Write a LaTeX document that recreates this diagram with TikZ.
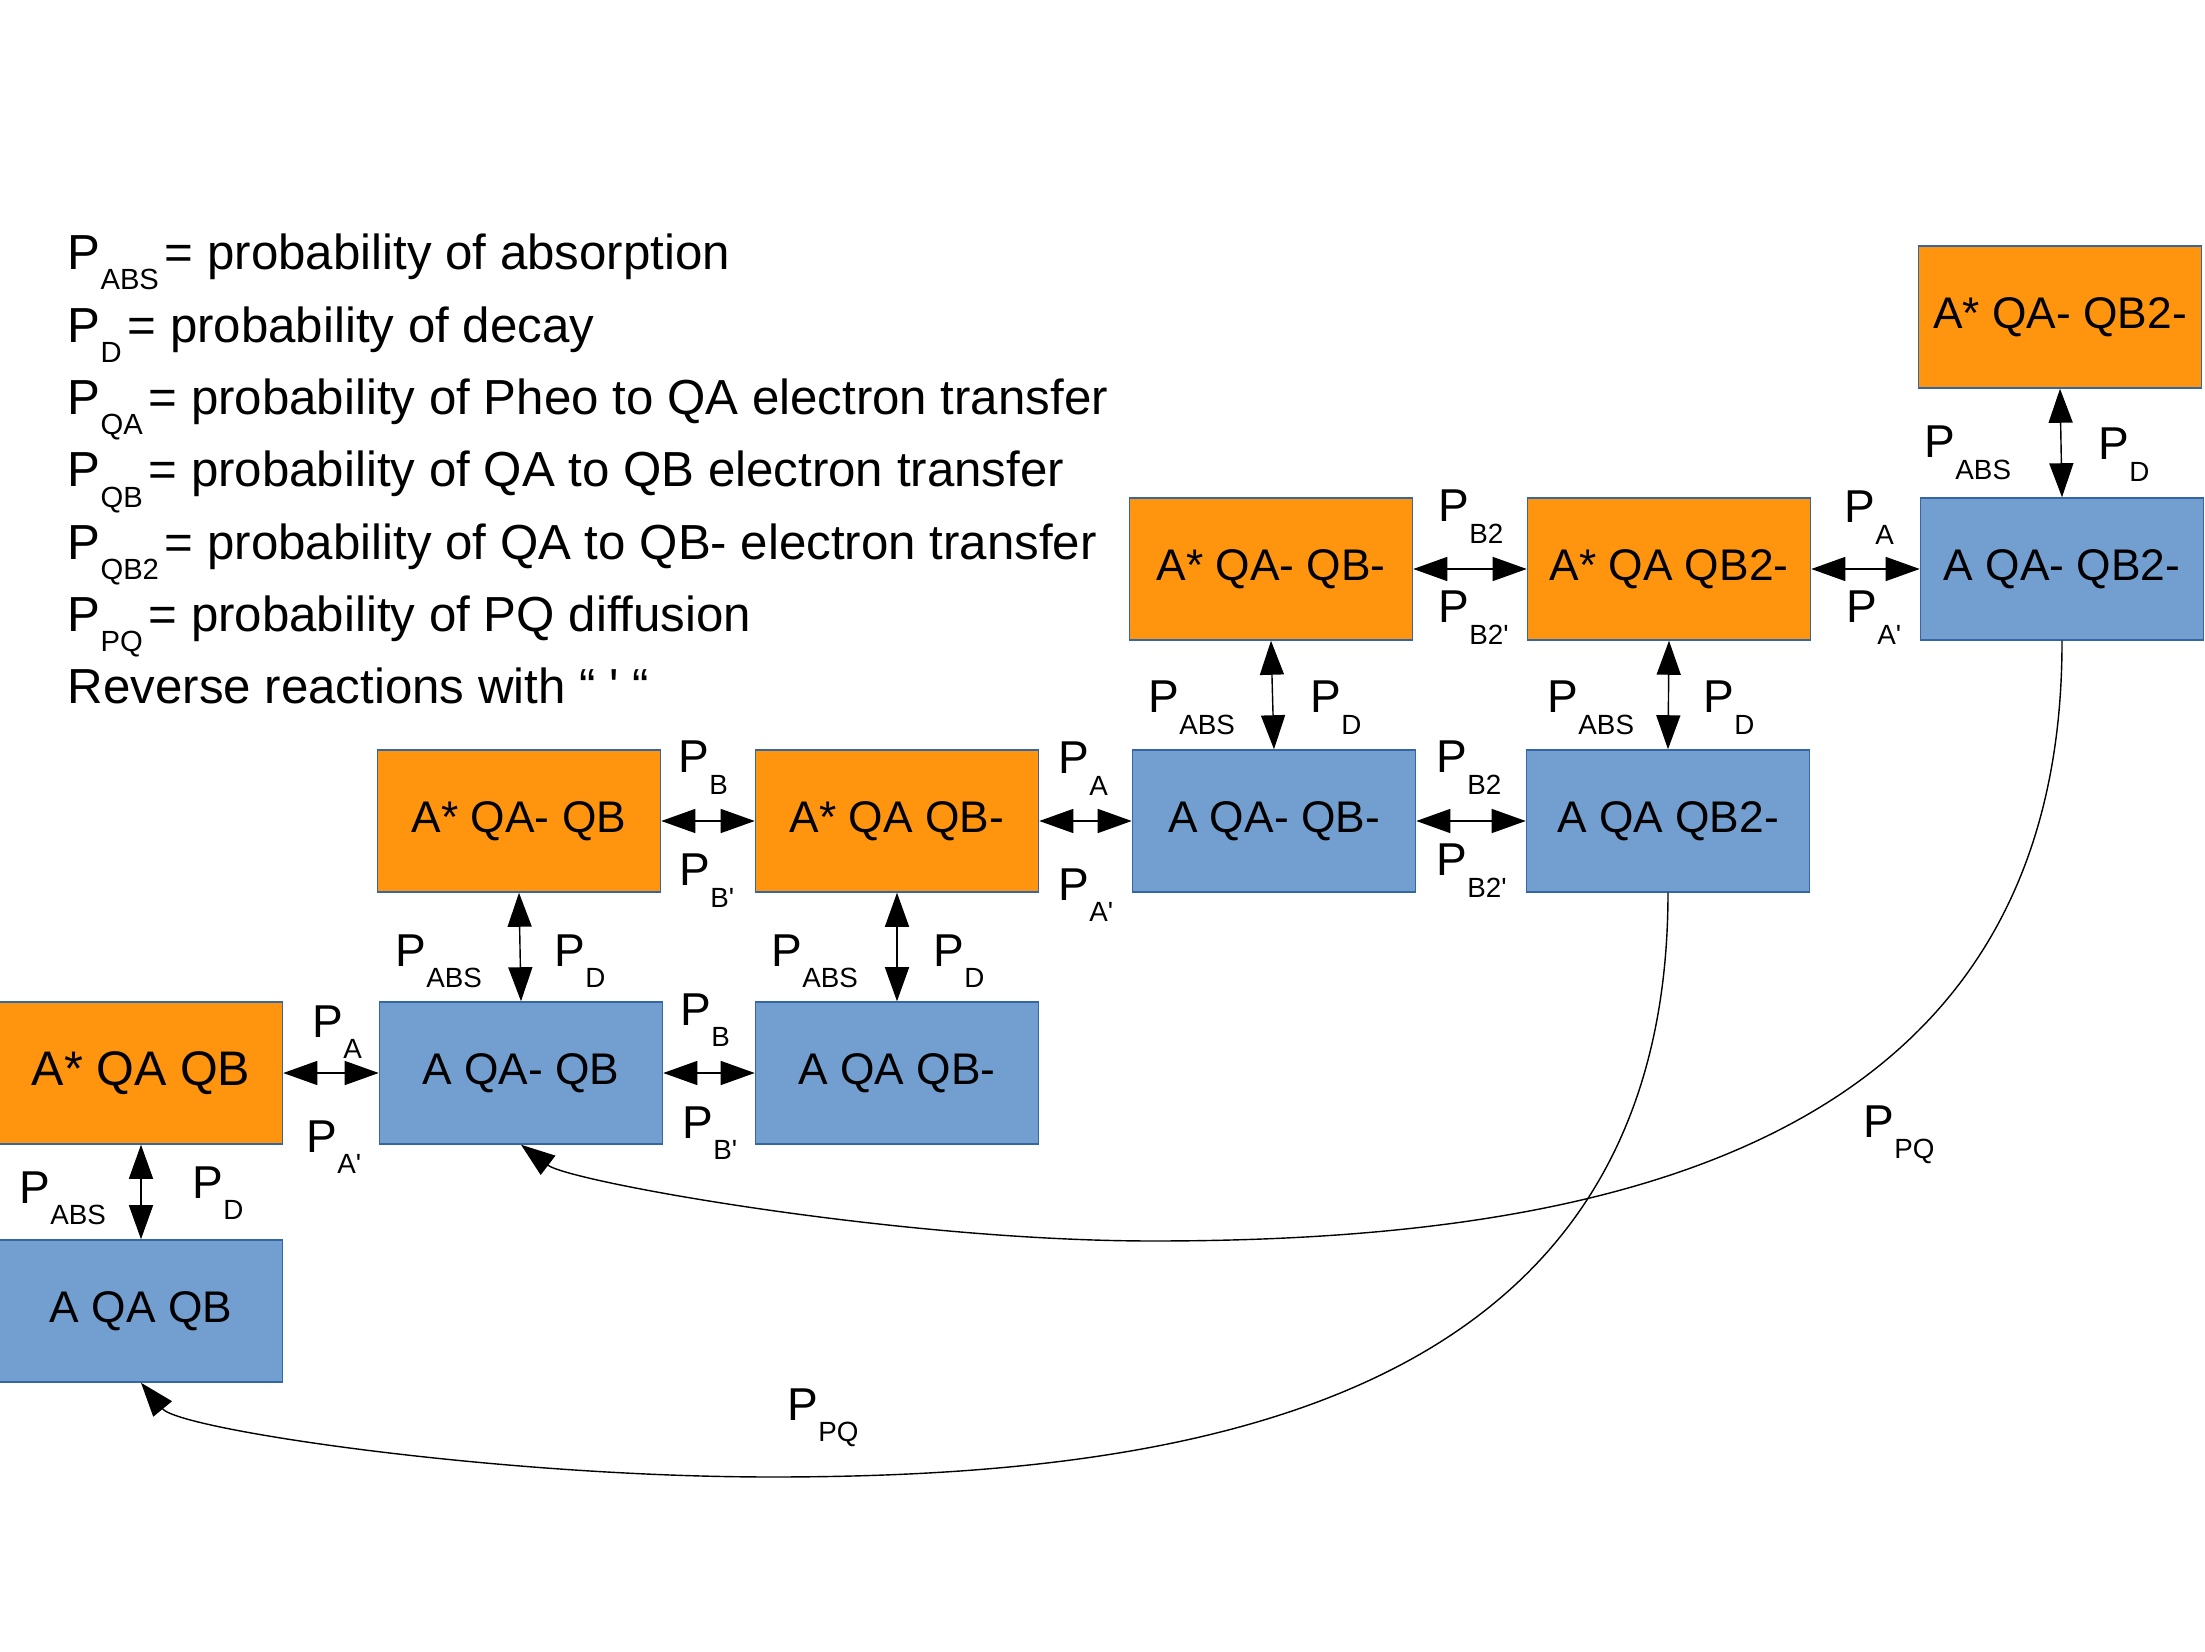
\documentclass[tikz,border=0pt]{standalone}
\usepackage{fontspec}
\setmainfont{Liberation Sans}
\usetikzlibrary{arrows.meta}
\definecolor{boxorange}{HTML}{FF950E}
\definecolor{boxblue}{HTML}{729FCF}
\definecolor{boxedge}{HTML}{3465A4}
\newcommand{\plab}[1]{P\raisebox{-0.21cm}{\fontsize{7.9}{8}\selectfont #1}}
\newcommand{\lsub}[1]{P\raisebox{-0.2cm}{\fontsize{8.3}{9}\selectfont #1}\kern0.06cm}
\newcommand{\rev}{\textquotesingle}

\begin{document}
\begin{tikzpicture}[x=0.01cm, y=-0.01cm,
    >={Triangle[length=0.34cm,width=0.24cm]},
    excited/.style={draw=boxedge, fill=boxorange, minimum width=2.83cm, minimum height=1.42cm, inner sep=0pt, font=\fontsize{12.6}{14}\selectfont},
    ground/.style={excited, fill=boxblue},
    lbl/.style={anchor=base west, inner sep=0pt, font=\fontsize{13.1}{15}\selectfont}]
    \useasboundingbox (0,0) rectangle (2205,1652);
    \node[anchor=base west, inner sep=0pt, align=left, font=\fontsize{14}{20.57}\selectfont] (legend) at (67,704)
        {\lsub{ABS}= probability of absorption\\
         \lsub{D}= probability of decay\\
         \lsub{QA}= probability of Pheo to QA electron transfer\\
         \lsub{QB}= probability of QA to QB electron transfer\\
         \lsub{QB2}= probability of QA to QB- electron transfer\\
         \lsub{PQ}= probability of PQ diffusion\\
         Reverse reactions with “ \rev{} “};

    \node[excited] (xqamqbb) at (2060,317) {A* QA- QB2-\hspace{0.2cm}};
    \node[excited] (xqamqbm) at (1271,569) {A* QA- QB-\hspace{0.2cm}};
    \node[excited] (xqaqbb) at (1669,569) {A* QA QB2-\hspace{0.2cm}};
    \node[ground] (aqamqbb) at (2062,569) {A QA- QB2-\hspace{0.2cm}};
    \node[excited] (xqamqb) at (519,821) {A* QA- QB\hspace{0.2cm}};
    \node[excited] (xqaqbm) at (897,821) {A* QA QB-\hspace{0.2cm}};
    \node[ground] (aqamqbm) at (1274,821) {A QA- QB-\hspace{0.2cm}};
    \node[ground] (aqaqbb) at (1668,821) {A QA QB2-\hspace{0.2cm}};
    \node[excited, font=\fontsize{13.8}{16}\selectfont] (xqaqb) at (141,1073) {A* QA QB\hspace{0.2cm}};
    \node[ground] (aqamqb) at (521,1073) {A QA- QB\hspace{0.2cm}};
    \node[ground] (aqaqbm) at (897,1073) {A QA QB-\hspace{0.2cm}};
    \node[ground] (aqaqb) at (141,1311) {A QA QB\hspace{0.2cm}};

    \draw[thin, <->] (xqaqb.south) -- (aqaqb.north);
    \draw[thin, <->] (xqamqb.south) -- (aqamqb.north);
    \draw[thin, <->] (xqaqbm.south) -- (aqaqbm.north);
    \draw[thin, <->] (xqamqbm.south) -- (aqamqbm.north);
    \draw[thin, <->] (xqaqbb.south) -- (aqaqbb.north);
    \draw[thin, <->] (xqamqbb.south) -- (aqamqbb.north);
    \draw[thin, <->] (xqaqb.east) -- (aqamqb.west);
    \draw[thin, <->] (aqamqb.east) -- (aqaqbm.west);
    \draw[thin, <->] (xqamqb.east) -- (xqaqbm.west);
    \draw[thin, <->] (xqaqbm.east) -- (aqamqbm.west);
    \draw[thin, <->] (aqamqbm.east) -- (aqaqbb.west);
    \draw[thin, <->] (xqamqbm.east) -- (xqaqbb.west);
    \draw[thin, <->] (xqaqbb.east) -- (aqamqbb.west);

    \draw[thin, ->] (aqamqbb.south) .. controls (2063,1150) and (1600,1241) .. (1153,1241)
        .. controls (900,1241) and (570,1182) .. (aqamqb.south);
    \draw[thin, ->] (aqaqbb.south) .. controls (1668,1400) and (1200,1477) .. (772,1477)
        .. controls (500,1477) and (180,1430) .. (aqaqb.south);

    \node[lbl] (pabs1) at (19,1203) {\plab{ABS}};
    \node[lbl] (pd1) at (192,1198) {\plab{D}};
    \node[lbl] (pa1) at (312,1037) {\plab{A}};
    \node[lbl] (par1) at (306,1152) {\plab{A\rev}};
    \node[lbl] (pabs2) at (395,966) {\plab{ABS}};
    \node[lbl] (pd2) at (554,966) {\plab{D}};
    \node[lbl] (pb1) at (678,773) {\plab{B}};
    \node[lbl] (pbr1) at (679,886) {\plab{B\rev}};
    \node[lbl] (pb2) at (680,1025) {\plab{B}};
    \node[lbl] (pbr2) at (682,1138) {\plab{B\rev}};
    \node[lbl] (pabs3) at (771,966) {\plab{ABS}};
    \node[lbl] (pd3) at (933,966) {\plab{D}};
    \node[lbl] (pa2) at (1058,774) {\plab{A}};
    \node[lbl] (par2) at (1058,900) {\plab{A\rev}};
    \node[lbl] (pabs4) at (1148,713) {\plab{ABS}};
    \node[lbl] (pd4) at (1310,713) {\plab{D}};
    \node[lbl] (pbb1) at (1438,522) {\plab{B2}};
    \node[lbl] (pbbr1) at (1438,623) {\plab{B2\rev}};
    \node[lbl] (pbb2) at (1436,773) {\plab{B2}};
    \node[lbl] (pbbr2) at (1436,876) {\plab{B2\rev}};
    \node[lbl] (pabs5) at (1547,713) {\plab{ABS}};
    \node[lbl] (pd5) at (1703,713) {\plab{D}};
    \node[lbl] (pa3) at (1844,523) {\plab{A}};
    \node[lbl] (par3) at (1846,623) {\plab{A\rev}};
    \node[lbl] (pabs6) at (1924,458) {\plab{ABS}};
    \node[lbl] (pd6) at (2098,460) {\plab{D}};
    \node[lbl] (ppq1) at (1863,1137) {\plab{PQ}};
    \node[lbl] (ppq2) at (787,1420) {\plab{PQ}};
\end{tikzpicture}
\end{document}
